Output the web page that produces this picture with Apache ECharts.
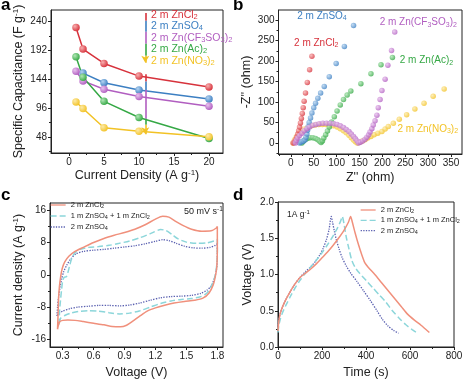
<!DOCTYPE html>
<html><head><meta charset="utf-8">
<script src="https://cdn.jsdelivr.net/npm/echarts@6/dist/echarts.min.js"></script>
<style>html,body{margin:0;padding:0;background:#fff}#c{width:467px;height:385px}</style>
</head><body><div id="c"></div>
<script>
// ---------------- data ----------------
// (a) specific capacitance vs current density
const capDensity = [1, 2, 5, 10, 20];
const capZnCl2 = [230, 194, 170, 149, 131];
const capZnSO4 = [null, 154, 138, 126, 111];
const capZnCF3 = [157, 141, 127, 115, 99];
const capZnAc  = [181, 147, 107, 80, 45];
const capZnNO3 = [106, 95, 63, 57, 48];
const capYTicks = [48, 96, 144, 192, 240];
const capYMinor = [24, 72, 120, 168, 216];
const capXTicks = [0, 5, 10, 15, 20];
const capXMinor = [2.5, 7.5, 12.5, 17.5];
const arrowX = 10.9;
const legendArrowStops = [254, 241, 223, 203, 183, 171];
const trendArrowStops  = [152, 140, 126, 78, 68, 52];

// (b) Nyquist plots [Z', -Z'']
const bZnCl2 = [[5,0],[7,2],[9,5],[11,9],[13,15],[15,22],[17,30],[19,39],[21,49],[23,60],[25,72],[27,86],[29,102],[32,122],[36,148],[41,179],[46,212]];
const bZnSO4 = [[19,0],[22,2],[25,4],[28,5],[31,8],[33,14],[35,22],[36.5,31],[38,40],[40,50],[43,61],[46,73],[50,86],[54,97],[59,109],[65,122],[73,138],[84,162],[99,194],[117,236],[137,287]];
const bZnAc  = [[24,0],[27,4],[31,8],[36,11],[42,13],[48,13],[54,11],[59,8],[63,4],[66,1],[69,5],[72,12],[76,20],[80,29],[84,39],[89,51],[95,64],[101,78],[108,93],[115,106],[123,117],[131,127],[153,145],[175,169],[197,191],[222,209]];
const bZnCF3 = [[10,0],[12,6],[15,12],[19,18],[24,24],[29,30],[35,35],[41,39],[48,43],[55,45],[62,47],[70,48],[78,48],[86,48],[94,47],[101,45],[108,42],[115,38],[121,33],[127,28],[132,22],[137,16],[141,10],[145,5],[148,0],[152,2],[157,5],[162,9],[166,14],[170,20],[173,27],[177,35],[180,44],[184,54],[188,68],[191,86],[195,106],[199,128],[206,156],[212,190],[220,226],[227,271]];
const bZnNO3 = [[5,0],[8,8],[12,15],[17,22],[23,28],[30,34],[37,38],[45,42],[53,44],[61,45],[69,45],[77,45],[85,44],[93,42],[101,39],[108,35],[115,30],[121,25],[127,19],[132,13],[137,7],[141,3],[145,0],[150,2],[156,5],[162,8],[168,12],[175,16],[182,20],[190,24],[199,28],[206,34],[213,40],[224,48],[237,58],[253,69],[271,83],[291,97],[311,114],[335,132]];
const bXTicks = [0, 50, 100, 150, 200, 250, 300, 350];
const bXMinor = [-25, 25, 75, 125, 175, 225, 275, 325];
const bYTicks = [0, 50, 100, 150, 200, 250, 300];
const bYMinor = [-25, 25, 75, 125, 175, 225, 275];

// (c) CV curves [V, A/g]
const cvZnCl2 = [[0.25,-13.5],[0.255,-10],[0.26,-6],[0.268,-3],[0.28,-0.5],[0.295,1.5],[0.32,3.2],[0.36,4.6],[0.42,5.8],[0.5,6.8],[0.6,8],[0.7,9],[0.8,9.8],[0.9,10.5],[1.0,11.3],[1.1,12.4],[1.2,13.8],[1.27,14.5],[1.33,14.3],[1.4,13.2],[1.47,12.2],[1.55,11.3],[1.65,10.8],[1.74,10.9],[1.79,11.6],[1.8,12],[1.8,6],[1.795,2],[1.78,-0.5],[1.76,-2.5],[1.72,-4.5],[1.66,-5.8],[1.58,-6.3],[1.48,-6.6],[1.38,-7],[1.28,-7.6],[1.2,-8.2],[1.12,-9.0],[1.05,-10.2],[0.98,-11.5],[0.92,-12.5],[0.86,-12.9],[0.78,-12.8],[0.7,-12.4],[0.6,-12],[0.5,-11.6],[0.42,-11.3],[0.35,-11.2],[0.3,-11.3],[0.27,-11.7],[0.25,-13.5]];
const cvMix = [[0.265,-12.3],[0.27,-9],[0.28,-6],[0.29,-3.5],[0.3,-1.5],[0.315,-0.6],[0.335,-0.5],[0.35,0.5],[0.37,2.5],[0.39,4.2],[0.42,5.5],[0.47,6.3],[0.55,6.8],[0.65,7],[0.75,7.3],[0.85,7.8],[0.95,8.4],[1.05,9.2],[1.15,10.2],[1.25,11.2],[1.3,11],[1.36,10],[1.42,8.9],[1.5,8.1],[1.6,7.8],[1.7,7.9],[1.77,8.4],[1.8,8.8],[1.8,4.5],[1.79,1.5],[1.77,-1],[1.74,-3],[1.7,-4.5],[1.64,-5.4],[1.55,-5.9],[1.45,-6.1],[1.35,-6.5],[1.25,-7.1],[1.15,-8],[1.05,-8.9],[0.95,-9.5],[0.85,-9.7],[0.75,-9.4],[0.65,-9],[0.55,-8.9],[0.45,-9.1],[0.38,-9.5],[0.32,-10.1],[0.28,-10.8],[0.265,-12.3]];
const cvZnSO4 = [[0.245,-10.2],[0.25,-8],[0.26,-5.5],[0.275,-3],[0.29,-1],[0.31,0.8],[0.34,2.4],[0.38,4],[0.43,5.2],[0.5,5.8],[0.6,6.1],[0.7,6.3],[0.8,6.6],[0.9,6.9],[1.0,7.2],[1.1,7.7],[1.2,8.3],[1.27,8.7],[1.33,8.5],[1.4,7.8],[1.48,7.1],[1.56,6.7],[1.65,6.6],[1.73,6.8],[1.78,7.3],[1.8,7.7],[1.8,4],[1.79,1],[1.77,-1],[1.74,-2.8],[1.7,-3.8],[1.64,-4.6],[1.55,-5.1],[1.45,-5.3],[1.35,-5.4],[1.25,-5.7],[1.15,-6.3],[1.05,-7],[0.95,-7.5],[0.85,-7.7],[0.75,-7.6],[0.65,-7.6],[0.55,-7.8],[0.45,-8],[0.37,-8.4],[0.3,-9],[0.26,-9.6],[0.245,-10.2]];
const cXTicks = [0.3, 0.6, 0.9, 1.2, 1.5, 1.8];
const cXMinor = [0.45, 0.75, 1.05, 1.35, 1.65];
const cYTicks = [-16, -8, 0, 8, 16];
const cYMinor = [-12, -4, 4, 12];

// (d) GCD curves [s, V]
const gcdZnCl2 = [[0,0.22],[4,0.36],[10,0.46],[20,0.55],[35,0.65],[55,0.76],[75,0.86],[100,0.96],[125,1.02],[150,1.08],[175,1.15],[200,1.23],[225,1.31],[250,1.4],[275,1.5],[300,1.61],[320,1.72],[330,1.8],[338,1.72],[350,1.58],[365,1.42],[380,1.28],[395,1.16],[410,1.1],[440,1.0],[470,0.89],[500,0.78],[530,0.67],[560,0.56],[590,0.45],[620,0.37],[650,0.3],[688,0.2]];
const gcdMix = [[0,0.2],[4,0.3],[10,0.38],[20,0.47],[35,0.57],[55,0.69],[75,0.8],[100,0.92],[125,1.02],[150,1.11],[175,1.2],[200,1.3],[225,1.41],[250,1.53],[270,1.64],[285,1.74],[292,1.8],[300,1.7],[310,1.52],[322,1.36],[335,1.2],[350,1.1],[370,1.02],[400,0.92],[430,0.82],[460,0.72],[490,0.62],[520,0.5],[550,0.4],[580,0.31],[610,0.24],[635,0.19]];
const gcdZnSO4 = [[0,0.28],[4,0.38],[10,0.46],[20,0.55],[35,0.65],[55,0.76],[75,0.86],[100,0.96],[125,1.04],[150,1.11],[170,1.18],[190,1.27],[205,1.36],[220,1.48],[232,1.62],[242,1.8],[248,1.72],[256,1.6],[265,1.48],[278,1.35],[292,1.23],[310,1.12],[330,1.02],[360,0.9],[390,0.77],[420,0.64],[450,0.5],[475,0.38],[500,0.29],[525,0.23],[548,0.19]];
const dXTicks = [0, 200, 400, 600, 800];
const dXMinor = [100, 300, 500, 700];
const dYTicks = [0, 0.5, 1.0, 1.5, 2.0];
const dYMinor = [0.25, 0.75, 1.25, 1.75];

// ---------------- styling ----------------
const FONT = '"Liberation Sans", Arial, sans-serif';
const INK = '#222';
const RED = '#d7323c', BLUE = '#3c7fc2', PURPLE = '#b15ec0', GREEN = '#35a845', YELLOW = '#f2c225';
const LIGHT = {[RED]:'#f7b0b0', [BLUE]:'#b4d3f0', [PURPLE]:'#e8c2ee', [GREEN]:'#b0e6b5', [YELLOW]:'#fdeaa8'};
const SALMON = '#f0907c', CYAN = '#8cd6da', NAVY = '#5a60b0';
const SUB = {fontSize: 7, lineHeight: 7, padding: [4, 0, 0, 0]};
const SUP = {fontSize: 8, lineHeight: 8, padding: [0, 0, 5, 0]};

function ball(c) {
  return {type: 'radial', x: 0.35, y: 0.35, r: 0.7,
    colorStops: [{offset: 0, color: LIGHT[c]}, {offset: 1, color: c}]};
}

function axisPair(gridIndex, pos, min, max, majors, minors, fmt, name, nameGap, fs) {
  const major = {
    type: 'value', gridIndex, position: pos, min, max,
    axisLine: {show: true, onZero: false, lineStyle: {color: INK, width: 1}},
    axisTick: {show: true, length: 3, customValues: majors, lineStyle: {color: INK, width: 1}},
    axisLabel: {customValues: majors, formatter: fmt, fontSize: fs, color: INK, fontFamily: FONT, margin: 4},
    splitLine: {show: false},
    name, nameLocation: 'middle', nameGap,
    nameTextStyle: {fontSize: 12.5, color: INK, fontFamily: FONT, rich: {sup: SUP}}
  };
  const minor = {
    type: 'value', gridIndex, position: pos, min, max,
    axisLine: {show: false, onZero: false},
    axisTick: {show: true, length: 2, customValues: minors, lineStyle: {color: INK, width: 1}},
    axisLabel: {show: false},
    splitLine: {show: false}
  };
  return [major, minor];
}

const xAxes = [
  ...axisPair(0, 'bottom', -2.57, 22, capXTicks, capXMinor, v => String(v), 'Current Density (A g{sup|-1})', 16, 10),
  ...axisPair(1, 'bottom', -27, 374, bXTicks, bXMinor, v => String(v), "Z'' (ohm)", 17, 10),
  ...axisPair(2, 'bottom', 0.177, 1.855, cXTicks, cXMinor, v => v.toFixed(1), 'Voltage (V)', 19, 10),
  ...axisPair(3, 'bottom', 0, 800, dXTicks, dXMinor, v => String(v), 'Time (s)', 19, 10)
];
const yAxes = [
  ...axisPair(0, 'left', 21, 259, capYTicks, capYMinor, v => String(v), 'Specific Capacitance (F g{sup|-1})', 26, 10),
  ...axisPair(1, 'left', -27, 325, bYTicks, bYMinor, v => String(v), "-Z'' (ohm)", 25, 10),
  ...axisPair(2, 'left', -17.9, 17.8, cYTicks, cYMinor, v => String(v), 'Current density (A g{sup|-1})', 25, 10),
  ...axisPair(3, 'left', 0, 2, dYTicks, dYMinor, v => v.toFixed(1), 'Voltage (V)', 24, 10)
];

const grids = [
  {left: 51, top: 10, width: 172, height: 143},
  {left: 278.5, top: 10, width: 183.5, height: 144},
  {left: 50, top: 203, width: 173, height: 144},
  {left: 278, top: 202, width: 176, height: 145}
].map(g => Object.assign(g, {show: true, borderColor: INK, borderWidth: 1, backgroundColor: 'transparent'}));

function capSeries(name, vals, color, extra) {
  return Object.assign({
    name, type: 'line', xAxisIndex: 0, yAxisIndex: 0,
    data: capDensity.map((x, i) => [x, vals[i]]).filter(p => p[1] != null),
    symbol: 'circle', symbolSize: 7.5,
    itemStyle: {color: ball(color), borderWidth: 0},
    lineStyle: {color, width: 1.5},
    silent: true
  }, extra || {});
}

function arrowLines(stops, colors) {
  const last = stops.length - 2;
  return stops.slice(0, -1).map((s, i) => [
    {coord: [arrowX, s], symbol: 'none', lineStyle: {color: colors[i], width: 1.6, type: 'solid'}},
    {coord: [arrowX, stops[i + 1]], symbol: i === last ? 'arrow' : 'none', symbolSize: i === last ? [6, 7] : 1}
  ]);
}
const arrowColors = [RED, BLUE, PURPLE, GREEN, YELLOW];

function nyq(name, data, color, label, lx, ly) {
  return {
    name, type: 'scatter', xAxisIndex: 2, yAxisIndex: 2, data,
    symbolSize: 5.5, itemStyle: {color: ball(color)}, silent: true,
    markPoint: {
      silent: true, symbol: 'circle', symbolSize: 0,
      data: [{coord: [lx, ly]}],
      label: {show: true, position: 'right', distance: 0, formatter: () => label,
        color, fontSize: 10, fontFamily: FONT, rich: {s: SUB}}
    }
  };
}

function curve(name, data, color, type, width, xi) {
  return {
    name, type: 'line', xAxisIndex: xi, yAxisIndex: xi, data, symbol: 'none', smooth: 0.25,
    lineStyle: {color, width, type}, itemStyle: {color}, silent: true
  };
}

const legendText = {
  cCl: '2 m ZnCl{s|2}', cMix: '1 m ZnSO{s|4} + 1 m ZnCl{s|2}', cSO4: '2 m ZnSO{s|4}',
  dCl: '2 m ZnCl{s|2}', dMix: '1 m ZnSO{s|4} + 1 m ZnCl{s|2}', dSO4: '2 m ZnSO{s|4}'
};
const smallSub = {fontSize: 5.5, lineHeight: 5.5, padding: [3, 0, 0, 0]};

const aLegend = [
  '{r|2 m ZnCl}{rs|2}', '{b|2 m ZnSO}{bs|4}', '{p|2 m Zn(CF}{ps|3}{p|SO}{ps|3}{p|)}{ps|2}',
  '{g|2 m Zn(Ac)}{gs|2}', '{y|2 m Zn(NO}{ys|3}{y|)}{ys|2}'
].join('\n');
const aRich = {};
[['r', RED], ['b', BLUE], ['p', PURPLE], ['g', GREEN], ['y', YELLOW]].forEach(([k, c]) => {
  aRich[k] = {color: c, fontSize: 10.5, lineHeight: 11.5, fontFamily: FONT, fontWeight: 'normal'};
  aRich[k + 's'] = {color: c, fontSize: 7.5, lineHeight: 7.5, padding: [4, 0, 0, 0], fontFamily: FONT, fontWeight: 'normal'};
});

const legendBase = {orient: 'vertical', padding: 0, itemWidth: 15, itemHeight: 8,
  selectedMode: false, itemStyle: {opacity: 0}, lineStyle: {width: 1.3},
  formatter: n => legendText[n],
  textStyle: {fontSize: 7.5, color: INK, fontFamily: FONT, rich: {s: smallSub}}};

const option = {
  animation: false,
  backgroundColor: '#fff',
  textStyle: {fontFamily: FONT},
  grid: grids,
  xAxis: xAxes,
  yAxis: yAxes,
  title: [
    {text: 'a', left: 1, top: -3, padding: 0, textStyle: {fontSize: 17, fontWeight: 'bold', color: '#000', fontFamily: FONT}},
    {text: 'b', left: 233, top: -3, padding: 0, textStyle: {fontSize: 17, fontWeight: 'bold', color: '#000', fontFamily: FONT}},
    {text: 'c', left: 1, top: 187, padding: 0, textStyle: {fontSize: 17, fontWeight: 'bold', color: '#000', fontFamily: FONT}},
    {text: 'd', left: 233, top: 187, padding: 0, textStyle: {fontSize: 17, fontWeight: 'bold', color: '#000', fontFamily: FONT}},
    {text: aLegend, left: 151, top: 9, padding: 0, textStyle: {fontWeight: 'normal', fontSize: 10.5, rich: aRich}},
    {text: '50 mV s{sup|-1}', left: 184, top: 207, padding: 0,
      textStyle: {fontSize: 9, fontWeight: 'normal', color: INK, fontFamily: FONT, rich: {sup: {fontSize: 6.5, lineHeight: 6, padding: [0, 0, 4, 0]}}}},
    {text: '1A g{sup|-1}', left: 287, top: 210, padding: 0,
      textStyle: {fontSize: 8.5, fontWeight: 'normal', color: INK, fontFamily: FONT, rich: {sup: {fontSize: 6, lineHeight: 6, padding: [0, 0, 4, 0]}}}}
  ],
  legend: [
    Object.assign({left: 50, top: 200.5, itemGap: 2, data: ['cCl', 'cMix', 'cSO4']}, legendBase),
    Object.assign({left: 360, top: 205.5, itemGap: 1.3, data: ['dCl', 'dMix', 'dSO4']}, legendBase)
  ],
  series: [
    capSeries('aZnCl2', capZnCl2, RED),
    capSeries('aZnSO4', capZnSO4, BLUE),
    capSeries('aZnCF3', capZnCF3, PURPLE),
    capSeries('aZnAc', capZnAc, GREEN),
    capSeries('aZnNO3', capZnNO3, YELLOW, {
      markLine: {silent: true, symbol: ['none', 'none'], label: {show: false},
        data: arrowLines(legendArrowStops, arrowColors).concat(arrowLines(trendArrowStops, arrowColors))}
    }),
    nyq('bZnNO3', bZnNO3, YELLOW, '2 m Zn(NO{s|3}){s|2}', 233, 34),
    nyq('bZnAc', bZnAc, GREEN, '2 m Zn(Ac){s|2}', 238, 201),
    nyq('bZnSO4', bZnSO4, BLUE, '2 m ZnSO{s|4}', 14, 309),
    nyq('bZnCl2', bZnCl2, RED, '2 m ZnCl{s|2}', 7, 243),
    nyq('bZnCF3', bZnCF3, PURPLE, '2 m Zn(CF{s|3}SO{s|3}){s|2}', 194, 294),
    curve('cSO4', cvZnSO4, NAVY, 'dotted', 1.3, 4),
    curve('cMix', cvMix, CYAN, [6, 3], 1.5, 4),
    curve('cCl', cvZnCl2, SALMON, 'solid', 1.5, 4),
    curve('dSO4', gcdZnSO4, NAVY, 'dotted', 1.3, 6),
    curve('dMix', gcdMix, CYAN, [6, 3], 1.5, 6),
    curve('dCl', gcdZnCl2, SALMON, 'solid', 1.5, 6)
  ]
};

const chart = echarts.init(document.getElementById('c'), null, {renderer: 'canvas'});
chart.setOption(option);
</script>
</body></html>
